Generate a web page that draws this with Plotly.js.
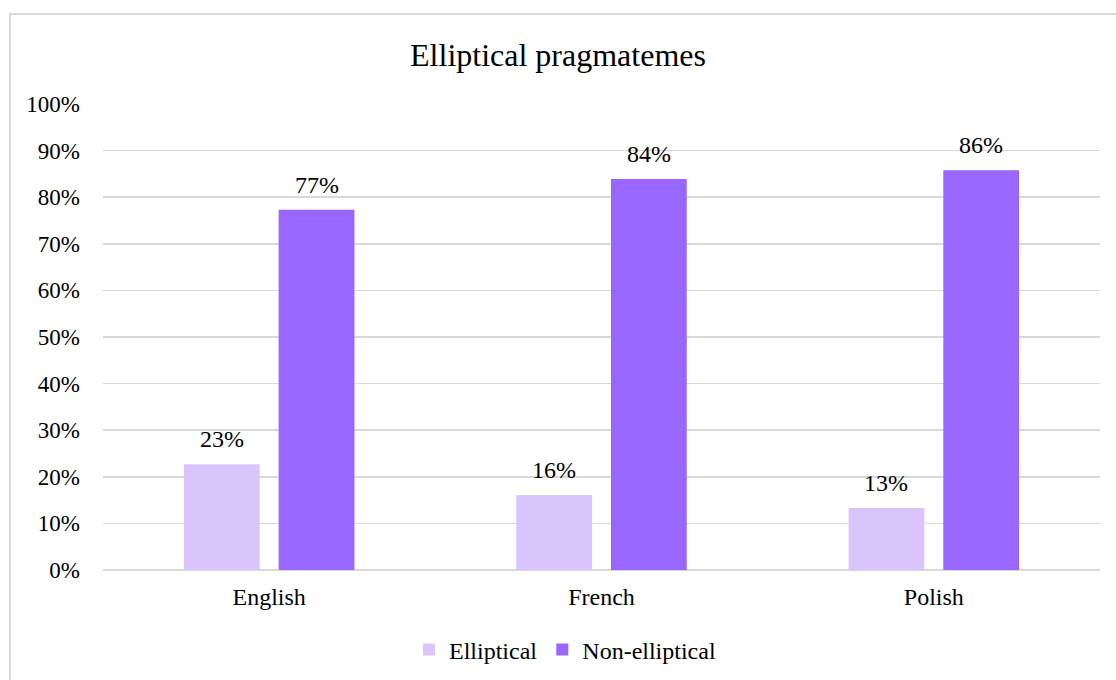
<!DOCTYPE html>
<html>
<head>
<meta charset="utf-8">
<script src="https://cdn.plot.ly/plotly-3.0.1.min.js"></script>
<style>
  html, body { margin: 0; padding: 0; background: #fff; overflow: hidden; }
  #chart { width: 1116px; height: 680px; }
  #frame { position: absolute; left: 9px; top: 13px; width: 1200px; height: 800px;
           border-left: 2px solid #d9d9d9; border-top: 2px solid #d9d9d9; pointer-events: none; }
</style>
</head>
<body>
<div id="chart"></div>
<div id="frame"></div>
<script>
const categories = ["English", "French", "Polish"];
const elliptical = [0.227, 0.161, 0.133];
const nonElliptical = [0.773, 0.839, 0.858];
const seriesNames = ["Elliptical", "Non-elliptical"];
const seriesColors = ["#DAC4FC", "#9966FF"];

const FONT = "'Liberation Serif', 'Times New Roman', serif";
const W = 1116, H = 680;
const margin = { l: 103, r: 16, t: 104, b: 110 };
const bargap = 0.43;

const traces = [
  { type: "bar", name: seriesNames[0], x: categories, y: elliptical,
    marker: { color: seriesColors[0] }, hoverinfo: "none" },
  { type: "bar", name: seriesNames[1], x: categories, y: nonElliptical,
    marker: { color: seriesColors[1] }, hoverinfo: "none" }
];

// data labels placed through the axes' own scales, shifted to each bar of the group
const catWidth = (W - margin.l - margin.r) / categories.length;
const slot = catWidth * (1 - bargap) / 2;
const annotations = [];
[elliptical, nonElliptical].forEach((vals, s) => {
  vals.forEach((v, i) => {
    annotations.push({
      x: categories[i], y: v, xref: "x", yref: "y",
      text: Math.round(v * 100) + "%", showarrow: false,
      xanchor: "center", yanchor: "bottom",
      xshift: (s - 0.5) * slot, yshift: 10,
      font: { family: FONT, size: 24, color: "#000" }
    });
  });
});

const layout = {
  width: W, height: H, margin: margin,
  paper_bgcolor: "#fff", plot_bgcolor: "#fff",
  font: { family: FONT, size: 24, color: "#000" },
  title: {
    text: "Elliptical pragmatemes",
    font: { family: FONT, size: 32, color: "#000" },
    x: 0.5, xanchor: "center", xref: "container",
    y: 1 - 55 / 680, yanchor: "middle", yref: "container"
  },
  bargap: bargap, bargroupgap: 0.2, barmode: "group",
  xaxis: {
    type: "category", showgrid: false, zeroline: false, showline: false,
    ticks: "", ticklabelstandoff: 10,
    tickfont: { family: FONT, size: 24, color: "#000" }
  },
  yaxis: {
    range: [0, 1], dtick: 0.1, tickformat: ".0%",
    showgrid: true, gridcolor: "#d9d9d9", gridwidth: 1.5,
    zeroline: true, zerolinecolor: "#d9d9d9", zerolinewidth: 1.5,
    showline: false, ticks: "", ticklabelstandoff: 22,
    tickfont: { family: FONT, size: 23, color: "#000" }
  },
  annotations: annotations,
  showlegend: true,
  legend: {
    orientation: "h", x: 0.5 + 7 / W, xanchor: "center", xref: "container",
    y: 1 - 650 / 680, yanchor: "middle", yref: "container",
    font: { family: FONT, size: 24, color: "#000" },
    itemwidth: 30, traceorder: "normal"
  }
};

Plotly.newPlot("chart", traces, layout, { displayModeBar: false, staticPlot: true });
</script>
</body>
</html>
